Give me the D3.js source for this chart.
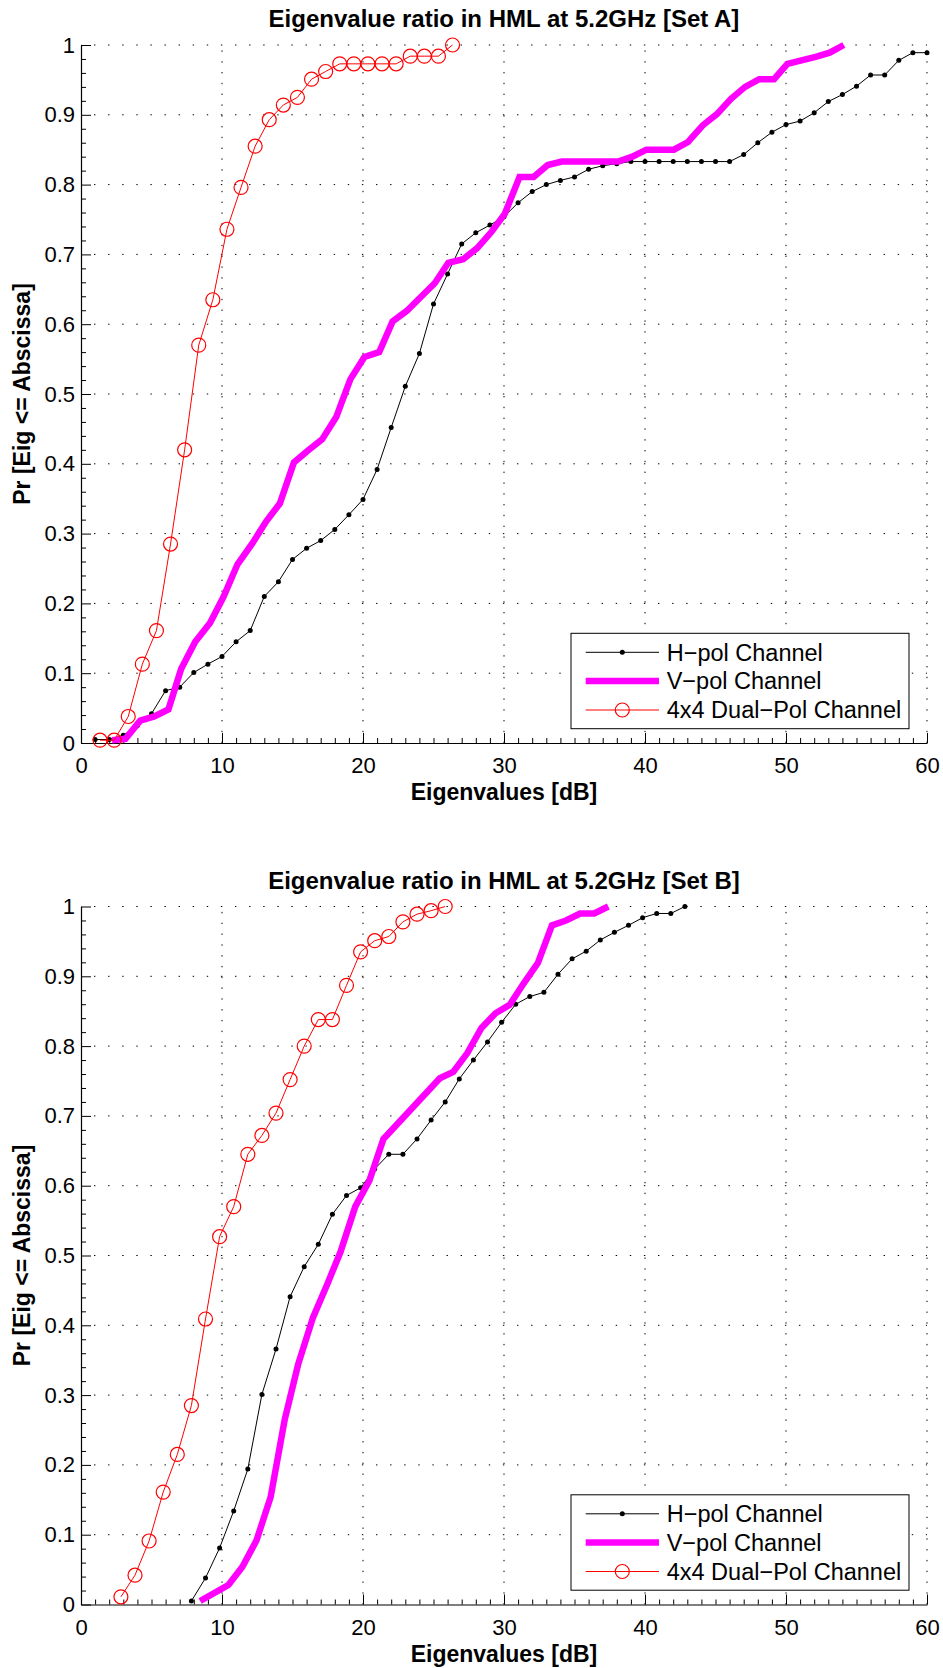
<!DOCTYPE html>
<html>
<head>
<meta charset="utf-8">
<script src="https://cdn.jsdelivr.net/npm/d3@7"></script>
<style>
  html, body { margin: 0; padding: 0; background: #fff; }
  svg { display: block; font-family: "Liberation Sans", Arial, Helvetica, sans-serif; }
</style>
</head>
<body>
<svg id="fig" width="943" height="1668"></svg>
<script>
// ---- axis ticks and labels ----
const xTicks = [0, 10, 20, 30, 40, 50, 60];
const xTickLabels = ["0", "10", "20", "30", "40", "50", "60"];
const yTicks = [0, 0.1, 0.2, 0.3, 0.4, 0.5, 0.6, 0.7, 0.8, 0.9, 1];
const yTickLabels = ["0", "0.1", "0.2", "0.3", "0.4", "0.5", "0.6", "0.7", "0.8", "0.9", "1"];
const xMinorTicks = [1,2,3,4,5,6,7,8,9,11,12,13,14,15,16,17,18,19,21,22,23,24,25,26,27,28,29,
                     31,32,33,34,35,36,37,38,39,41,42,43,44,45,46,47,48,49,51,52,53,54,55,56,57,58,59];
const yMinorTicks = [0.02,0.04,0.06,0.08,0.12,0.14,0.16,0.18,0.22,0.24,0.26,0.28,0.32,0.34,0.36,0.38,
                     0.42,0.44,0.46,0.48,0.52,0.54,0.56,0.58,0.62,0.64,0.66,0.68,0.72,0.74,0.76,0.78,
                     0.82,0.84,0.86,0.88,0.92,0.94,0.96,0.98];
const xLabel = "Eigenvalues [dB]";
const yLabel = "Pr [Eig <= Abscissa]";
const seriesNames = ["H\u2212pol Channel", "V\u2212pol Channel", "4x4 Dual\u2212Pol Channel"];
const titles = ["Eigenvalue ratio in HML at 5.2GHz [Set A]", "Eigenvalue ratio in HML at 5.2GHz [Set B]"];

// ---- Set A ----
const hpolA_x = [1,2,3,4,5,6,7,8,9,10,11,12,13,14,15,16,17,18,19,20,21,22,23,24,25,26,27,28,29,30,
                 31,32,33,34,35,36,37,38,39,40,41,42,43,44,45,46,47,48,49,50,51,52,53,54,55,56,57,58,59,60];
const hpolA_y = [0.005,0.005,0.011,0.025,0.042,0.075,0.080,0.101,0.113,0.124,0.145,0.161,0.210,0.231,0.263,
                 0.279,0.290,0.306,0.327,0.349,0.392,0.452,0.511,0.558,0.629,0.672,0.715,0.731,0.742,0.754,
                 0.774,0.790,0.800,0.806,0.811,0.822,0.827,0.830,0.833,0.833,0.833,0.833,0.833,0.833,0.833,
                 0.833,0.843,0.860,0.875,0.886,0.891,0.903,0.919,0.929,0.941,0.957,0.957,0.978,0.989,0.989];

const vpolA_x = [2.2,3.15,4.2,5.2,6.2,7.1,8.1,9.15,10.1,11.1,12.15,13.15,14.1,15.1,16.1,17.1,18.1,19.1,20.1,
                 21.15,22.1,23.1,24.1,25.1,26.05,27.1,28.1,29.1,30.05,31.1,32.1,33.1,34.1,35.1,36.1,37.1,38.1,
                 39.1,40.1,41.1,42.05,43.05,44.1,45.1,46.1,47.1,48.1,49.15,50.1,51.1,52.1,53.1,54.1];
const vpolA_y = [0.004,0.006,0.032,0.038,0.048,0.106,0.145,0.172,0.209,0.256,0.286,0.318,0.343,0.402,0.419,
                 0.435,0.467,0.521,0.553,0.560,0.604,0.619,0.639,0.659,0.688,0.693,0.709,0.732,0.758,0.811,
                 0.811,0.828,0.833,0.833,0.833,0.833,0.833,0.840,0.850,0.850,0.850,0.861,0.885,0.901,0.923,
                 0.940,0.951,0.951,0.973,0.978,0.983,0.989,1.000];

const dualA_x = [1.35,2.35,3.35,4.35,5.35,6.35,7.35,8.35,9.35,10.35,11.35,12.35,13.35,14.35,15.35,16.35,
                 17.35,18.35,19.35,20.35,21.35,22.35,23.35,24.35,25.35,26.35];
const dualA_y = [0.004,0.004,0.038,0.113,0.161,0.285,0.420,0.570,0.635,0.736,0.796,0.855,0.893,0.914,0.925,
                 0.951,0.962,0.973,0.973,0.973,0.973,0.973,0.984,0.984,0.984,1.000];

// ---- Set B ----
const hpolB_x = [7.83,8.83,9.83,10.83,11.83,12.83,13.83,14.83,15.83,16.83,17.83,18.83,19.83,20.83,21.83,
                 22.83,23.83,24.83,25.83,26.83,27.83,28.83,29.83,30.83,31.83,32.83,33.83,34.83,35.83,36.83,
                 37.83,38.83,39.83,40.83,41.83,42.83];
const hpolB_y = [0.005,0.038,0.081,0.134,0.194,0.301,0.366,0.441,0.484,0.516,0.559,0.586,0.597,0.624,0.645,
                 0.645,0.667,0.694,0.720,0.753,0.780,0.806,0.834,0.860,0.871,0.877,0.903,0.925,0.936,0.952,
                 0.963,0.973,0.984,0.990,0.990,1.000];

const vpolB_x = [8.45,10.45,11.45,12.45,13.45,14.45,15.4,16.45,17.45,18.4,19.45,20.45,21.45,25.45,26.4,
                 27.4,28.4,29.4,30.4,31.4,32.4,33.4,34.4,35.4,36.4,37.4];
const vpolB_y = [0.005,0.028,0.054,0.092,0.154,0.265,0.344,0.411,0.458,0.505,0.570,0.607,0.667,0.754,0.763,
                 0.790,0.826,0.847,0.859,0.890,0.919,0.973,0.980,0.990,0.990,1.000];

const dualB_x = [2.83,3.83,4.83,5.83,6.83,7.83,8.83,9.83,10.83,11.83,12.83,13.83,14.83,15.83,16.83,17.83,
                 18.83,19.83,20.83,21.83,22.83,23.83,24.83,25.83];
const dualB_y = [0.011,0.042,0.091,0.161,0.215,0.285,0.409,0.527,0.570,0.645,0.672,0.704,0.752,0.800,0.838,
                 0.838,0.887,0.935,0.951,0.957,0.978,0.989,0.994,1.000];

// ---- layout ----
const plotLeft = 81, plotRight = 927;
const panels = [
  { top: 45,    bottom: 743,    title: titles[0],
    hx: hpolA_x, hy: hpolA_y, vx: vpolA_x, vy: vpolA_y, dx: dualA_x, dy: dualA_y },
  { top: 906.5, bottom: 1604.5, title: titles[1],
    hx: hpolB_x, hy: hpolB_y, vx: vpolB_x, vy: vpolB_y, dx: dualB_x, dy: dualB_y }
];

const colH = "#000000", colV = "#ff00ff", colD = "#ff0000";
const svg = d3.select("#fig");

function toPoints(xs, ys) { return xs.map((v, i) => [v, ys[i]]); }

panels.forEach(p => {
  const x = d3.scaleLinear().domain([0, 60]).range([plotLeft, plotRight]);
  const y = d3.scaleLinear().domain([0, 1]).range([p.bottom, p.top]);
  const g = svg.append("g");

  // dotted grid
  const grid = g.append("g");
  grid.selectAll("line.gx").data(xTicks.slice(1)).enter().append("line")
    .attr("x1", d => x(d)).attr("x2", d => x(d))
    .attr("y1", y(0)).attr("y2", y(1))
    .attr("stroke", "#000").attr("stroke-width", 1)
    .attr("stroke-dasharray", "1.4 9.4");
  grid.selectAll("line.gy").data(yTicks.slice(1)).enter().append("line")
    .attr("x1", x(0)).attr("x2", x(60))
    .attr("y1", d => y(d)).attr("y2", d => y(d))
    .attr("stroke", "#000").attr("stroke-width", 1)
    .attr("stroke-dasharray", "1.4 12.7")
    .attr("stroke-dashoffset", -13);

  // axes
  const xAxis = d3.axisBottom(x).tickValues(xTicks)
    .tickFormat((d, i) => xTickLabels[i]).tickSizeInner(-10).tickSizeOuter(0).tickPadding(14.7);
  const yAxis = d3.axisLeft(y).tickValues(yTicks)
    .tickFormat((d, i) => yTickLabels[i]).tickSizeInner(-10).tickSizeOuter(0).tickPadding(6);
  const xMinor = d3.axisBottom(x).tickValues(xMinorTicks).tickFormat("").tickSizeInner(-5).tickSizeOuter(0);
  const yMinor = d3.axisLeft(y).tickValues(yMinorTicks).tickFormat("").tickSizeInner(-5).tickSizeOuter(0);

  [g.append("g").attr("transform", `translate(0,${p.bottom})`).call(xMinor),
   g.append("g").attr("transform", `translate(${plotLeft},0)`).call(yMinor)]
    .forEach(a => { a.select(".domain").remove(); a.selectAll("line").attr("stroke", "#000"); });

  const gx = g.append("g").attr("transform", `translate(0,${p.bottom})`).call(xAxis);
  const gy = g.append("g").attr("transform", `translate(${plotLeft},0)`).call(yAxis);
  [gx, gy].forEach(a => {
    a.attr("font-family", null).attr("font-size", null);
    a.selectAll("text").attr("font-size", 22).attr("fill", "#000");
    a.selectAll("line").attr("stroke", "#000");
    a.select(".domain").attr("stroke", "#000").attr("stroke-width", 1.2);
  });

  // series
  const line = d3.line().x(d => x(d[0])).y(d => y(d[1]));
  const hp = toPoints(p.hx, p.hy), vp = toPoints(p.vx, p.vy), dp = toPoints(p.dx, p.dy);

  g.append("path").datum(hp).attr("d", line)
    .attr("fill", "none").attr("stroke", colH).attr("stroke-width", 1);
  g.selectAll("circle.h").data(hp).enter().append("circle")
    .attr("cx", d => x(d[0])).attr("cy", d => y(d[1])).attr("r", 2.5).attr("fill", colH);

  g.append("path").datum(vp).attr("d", line)
    .attr("fill", "none").attr("stroke", colV).attr("stroke-width", 6.5)
    .attr("stroke-linejoin", "miter");

  g.append("path").datum(dp).attr("d", line)
    .attr("fill", "none").attr("stroke", colD).attr("stroke-width", 1);
  g.selectAll("circle.d").data(dp).enter().append("circle")
    .attr("cx", d => x(d[0])).attr("cy", d => y(d[1])).attr("r", 7)
    .attr("fill", "none").attr("stroke", colD).attr("stroke-width", 1.2);

  // title and axis labels
  g.append("text").attr("x", (plotLeft + plotRight) / 2).attr("y", p.top - 18)
    .attr("text-anchor", "middle").attr("font-weight", "bold").attr("font-size", 24)
    .text(p.title);
  g.append("text").attr("x", (plotLeft + plotRight) / 2).attr("y", p.bottom + 57)
    .attr("text-anchor", "middle").attr("font-weight", "bold").attr("font-size", 23)
    .text(xLabel);
  g.append("text")
    .attr("transform", `translate(29.5,${(p.top + p.bottom) / 2}) rotate(-90)`)
    .attr("text-anchor", "middle").attr("font-weight", "bold").attr("font-size", 23)
    .text(yLabel);

  // legend
  const lg = g.append("g").attr("transform", `translate(571,${p.bottom - 109.7})`);
  lg.append("rect").attr("width", 338).attr("height", 95.4)
    .attr("fill", "#fff").attr("stroke", "#000").attr("stroke-width", 1);
  const rows = [19, 47.7, 76.7];
  const styles = [
    { c: colH, w: 1, m: "dot" },
    { c: colV, w: 6.5, m: null },
    { c: colD, w: 1, m: "circle" }
  ];
  seriesNames.forEach((name, i) => {
    const ry = rows[i], s = styles[i];
    lg.append("line").attr("x1", 14.7).attr("x2", 88).attr("y1", ry).attr("y2", ry)
      .attr("stroke", s.c).attr("stroke-width", s.w);
    if (s.m === "dot") lg.append("circle").attr("cx", 51.3).attr("cy", ry).attr("r", 2.5).attr("fill", s.c);
    if (s.m === "circle") lg.append("circle").attr("cx", 51.3).attr("cy", ry).attr("r", 7)
      .attr("fill", "none").attr("stroke", s.c).attr("stroke-width", 1.2);
    lg.append("text").attr("x", 95.7).attr("y", ry).attr("dy", "0.35em")
      .attr("font-size", 23.5).attr("fill", "#000").text(name);
  });
});
</script>
</body>
</html>
